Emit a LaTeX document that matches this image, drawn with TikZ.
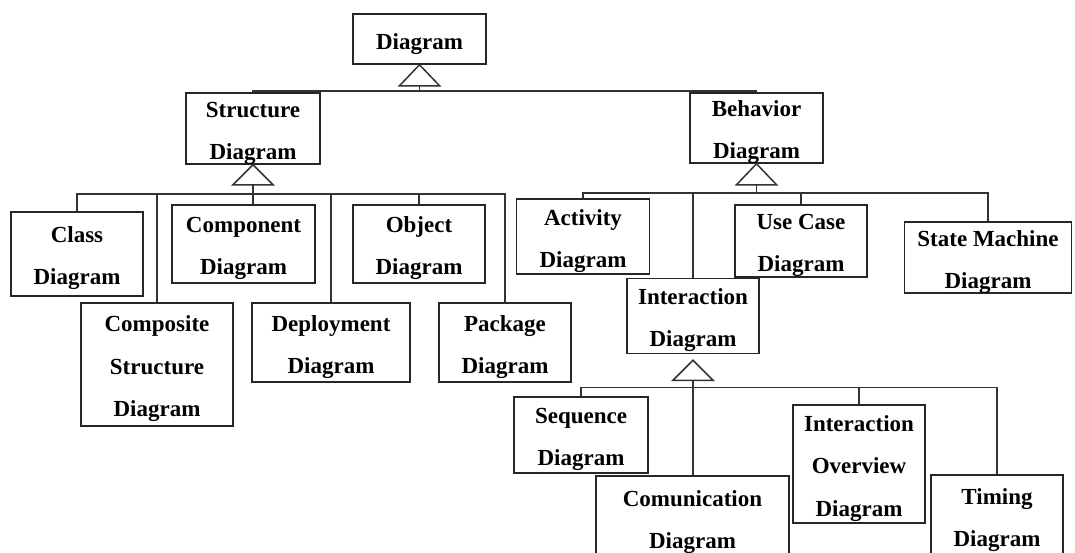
\documentclass[tikz,border=0pt]{standalone}
\usepackage{fontspec}
\setmainfont{Liberation Serif}
\begin{document}
\begin{tikzpicture}[x=1pt,y=-1pt,
  box/.style={draw=black!85, line width=1.5pt, fill=white, inner sep=0pt},
  txt/.style={inner sep=0pt, align=center, yshift=-4.5pt,
    font=\fontsize{23}{42}\selectfont\bfseries},
  txt3/.style={txt, font=\fontsize{23}{42.5}\selectfont\bfseries},
  link/.style={draw=black!80, line width=1.5pt},
  gen/.style={draw=black!80, line width=1.5pt, fill=white, line join=miter}]
\clip (0,0) rectangle (1075,552);
\fill[white] (0,0) rectangle (1075,552);

% --- classes (box plus centred caption) ---
\node[box, minimum width=133pt, minimum height=50pt,
  label={[txt, yshift=-1pt]center:Diagram}] (diag) at (419.5,39) {};
\node[box, minimum width=134pt, minimum height=71pt,
  label={[txt]center:Structure\\Diagram}] (struct) at (253,128.5) {};
\node[box, minimum width=133pt, minimum height=70pt,
  label={[txt]center:Behavior\\Diagram}] (behav) at (756.5,128) {};

\node[box, minimum width=132pt, minimum height=84pt,
  label={[txt]center:Class\\Diagram}] (class) at (77,254) {};
\node[box, minimum width=152pt, minimum height=123pt,
  label={[txt3]center:Composite\\Structure\\Diagram}] (compos) at (157,364.5) {};
\node[box, minimum width=143pt, minimum height=78pt,
  label={[txt]center:Component\\Diagram}] (compo) at (243.5,244) {};
\node[box, minimum width=158pt, minimum height=79pt,
  label={[txt]center:Deployment\\Diagram}] (deploy) at (331,342.5) {};
\node[box, minimum width=132pt, minimum height=78pt,
  label={[txt]center:Object\\Diagram}] (object) at (419,244) {};
\node[box, minimum width=132pt, minimum height=79pt,
  label={[txt]center:Package\\Diagram}] (pack) at (505,342.5) {};

\node[box, minimum width=133pt, minimum height=75pt,
  label={[txt]center:Activity\\Diagram}] (act) at (583,236.5) {};
\node[box, minimum width=132pt, minimum height=72pt,
  label={[txt]center:Use Case\\Diagram}] (usecase) at (801,241) {};
\node[box, minimum width=167pt, minimum height=71pt,
  label={[txt]center:State Machine\\Diagram}] (sm) at (988,257.5) {};
\node[box, minimum width=132pt, minimum height=75pt,
  label={[txt]center:Interaction\\Diagram}] (inter) at (693,316) {};

\node[box, minimum width=134pt, minimum height=76pt,
  label={[txt]center:Sequence\\Diagram}] (seq) at (581,435) {};
\node[box, minimum width=193pt, minimum height=87pt,
  label={[txt, yshift=2pt]center:Comunication\\Diagram}] (comm) at (692.5,519.5) {};
\node[box, minimum width=132pt, minimum height=118pt,
  label={[txt3]center:Interaction\\Overview\\Diagram}] (io) at (859,464) {};
\node[box, minimum width=132pt, minimum height=83pt,
  label={[txt, yshift=1pt]center:Timing\\Diagram}] (timing) at (997,516.5) {};

% --- Diagram generalization ---
\path (diag.south) ++(0,21) coordinate (dbase) ++(0,5) coordinate (dbar);
\draw[link] (dbase) -- (dbar);
\draw[link] (struct.north) |- (dbar) -| (behav.north);
\draw[gen] (diag.south) -- ++(-20,21) -- ++(40,0) -- cycle;

% --- Structure Diagram generalization ---
\path (struct.south) ++(0,20) coordinate (sbase) ++(0,9) coordinate (sbar);
\draw[link] (sbase) -- (sbase |- compo.north);
\draw[link] (class.north) |- (sbar) -| (pack.north);
\draw[link] (compos.north) -- (compos.north |- sbar);
\draw[link] (deploy.north) -- (deploy.north |- sbar);
\draw[link] (object.north) -- (object.north |- sbar);
\draw[gen] (struct.south) -- ++(-20,20) -- ++(40,0) -- cycle;

% --- Behavior Diagram generalization ---
\path (behav.south) ++(0,21) coordinate (bbase) ++(0,8) coordinate (bbar);
\draw[link] (bbase) -- (bbar);
\draw[link] (act.north) |- (bbar) -| (sm.north);
\draw[link] (inter.north) -- (inter.north |- bbar);
\draw[link] (usecase.north) -- (usecase.north |- bbar);
\draw[gen] (behav.south) -- ++(-20,21) -- ++(40,0) -- cycle;

% --- Interaction Diagram generalization ---
\path (inter.south) ++(0,6) coordinate (iapex) ++(0,20) coordinate (ibase) ++(0,7) coordinate (ibar);
\draw[link] (ibase) -- (ibase |- comm.north);
\draw[link] (seq.north) |- (ibar) -| (timing.north);
\draw[link] (io.north) -- (io.north |- ibar);
\draw[gen] (iapex) -- ++(-20,20) -- ++(40,0) -- cycle;
\end{tikzpicture}
\end{document}
